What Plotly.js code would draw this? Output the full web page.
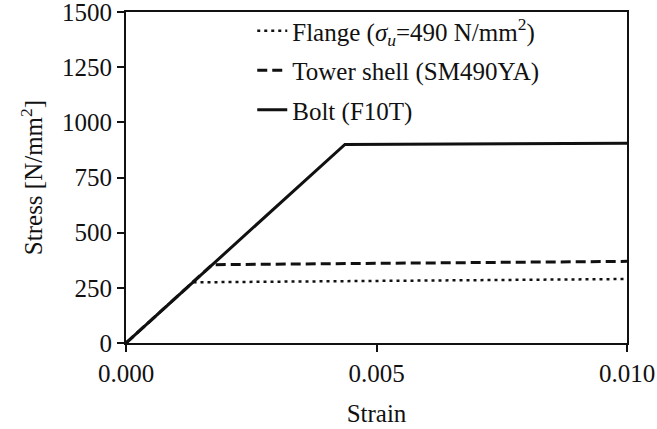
<!DOCTYPE html>
<html>
<head>
<meta charset="utf-8">
<script src="https://cdn.plot.ly/plotly-3.0.1.min.js"></script>
<style>html,body{margin:0;padding:0;background:#fff;}#chart{width:657px;height:429px;}</style>
</head>
<body>
<div id="chart"></div>
<script>
const seriesNames = ["Flange (<i>σ<sub>u</sub></i>=490 N/mm<sup>2</sup>)", "Tower shell (SM490YA)", "Bolt (F10T)"];
const strainFlange = [0, 0.00133, 0.010];
const stressFlange = [0, 275, 290];
const strainTower = [0, 0.00172, 0.010];
const stressTower = [0, 355, 370];
const strainBolt = [0, 0.00437, 0.010];
const stressBolt = [0, 900, 905];
const xTicks = [0, 0.005, 0.010];
const xTickText = ["0.000", "0.005", "0.010"];
const yTicks = [0, 250, 500, 750, 1000, 1250, 1500];

const font = {family: "Liberation Serif", size: 25, color: "#111"};

const traces = [
  {x: strainFlange, y: stressFlange, name: seriesNames[0], mode: "lines", legendgroup: "a",
   line: {color: "#111", width: 2.5, dash: "3px,4px"}},
  {x: strainTower, y: stressTower, name: seriesNames[1], mode: "lines", legendgroup: "b",
   line: {color: "#111", width: 3, dash: "10px,5px"}},
  {x: strainBolt, y: stressBolt, name: seriesNames[2], mode: "lines", legendgroup: "c",
   line: {color: "#111", width: 3}}
];

const layout = {
  width: 657, height: 429,
  margin: {l: 126, r: 30, t: 12, b: 86, autoexpand: false},
  paper_bgcolor: "#fff", plot_bgcolor: "#fff",
  font: font,
  showlegend: true,
  legend: {x: 0.252, y: 1.012, xanchor: "left", yanchor: "top", bgcolor: "rgba(0,0,0,0)",
           font: font, traceorder: "grouped", tracegroupgap: 4},
  xaxis: {
    range: [0, 0.010], tickvals: xTicks, ticktext: xTickText, ticklabeloverflow: "allow",
    showgrid: false, zeroline: false, showline: true, linecolor: "#111", linewidth: 2, mirror: true,
    ticks: "outside", ticklen: 7, tickwidth: 2, tickcolor: "#111",
    title: {text: "Strain", font: font, standoff: 18}
  },
  yaxis: {
    range: [0, 1500.001], tickvals: yTicks, ticklabeloverflow: "allow",
    showgrid: false, zeroline: false, showline: true, linecolor: "#111", linewidth: 2, mirror: true,
    ticks: "outside", ticklen: 7, tickwidth: 2, tickcolor: "#111",
    title: {text: "Stress [N/mm<sup>2</sup>]", font: font, standoff: 12}
  }
};

Plotly.newPlot("chart", traces, layout, {displayModeBar: false, staticPlot: true});
</script>
</body>
</html>
